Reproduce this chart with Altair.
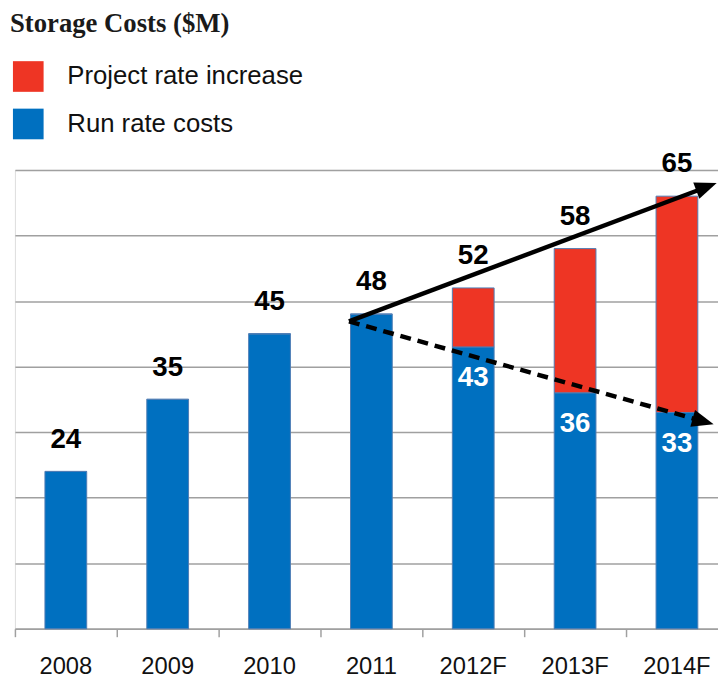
import math
import altair as alt
import pandas as pd

# ---- data ----
years = ["2008", "2009", "2010", "2011", "2012F", "2013F", "2014F"]
run_rate = [24, 35, 45, 48, 43, 36, 33]
project_increase = [0, 0, 0, 0, 9, 22, 33]
total_labels = [24, 35, 45, 48, 52, 58, 65]
run_labels = [None, None, None, None, 43, 36, 33]
boundary_ticks = [0, 1, 2, 3, 4, 5, 6, 7]

# trend arrows (x in category units, y in $M)
solid_x = [3.28, 6.74]
solid_y = [46.9, 67.1]
solid_tip_x = [6.89]
solid_tip_y = [68.0]
dashed_x = [3.28, 6.70]
dashed_y = [46.9, 31.9]
dashed_tip_x = [6.86]
dashed_tip_y = [31.2]
tip_angles = [69.4, 105.7]

series_names = ["Project rate increase", "Run rate costs"]
BLUE = "#0070C0"
RED = "#EE3524"

rows = []
for y, r, p in zip(years, run_rate, project_increase):
    rows.append({"year": y, "series": "Run rate costs", "value": r, "ord": 0})
    rows.append({"year": y, "series": "Project rate increase", "value": p, "ord": 1})
bars_df = pd.DataFrame(rows)

tot_df = pd.DataFrame({
    "year": years,
    "top": [r + p for r, p in zip(run_rate, project_increase)],
    "label": [str(v) for v in total_labels],
})
inner_df = pd.DataFrame({
    "year": [y for y, l in zip(years, run_labels) if l is not None],
    "run": [r for r, l in zip(run_rate, run_labels) if l is not None],
    "label": [str(l) for l in run_labels if l is not None],
})
solid_df = pd.DataFrame({"x": solid_x, "y": solid_y})
dashed_df = pd.DataFrame({"x": dashed_x, "y": dashed_y})
tips_df = pd.DataFrame({
    "x": solid_tip_x + dashed_tip_x,
    "y": solid_tip_y + dashed_tip_y,
    "angle": tip_angles,
})

# plot area: the last category runs past the right edge of the picture, as in the reference
W, H = 711, 464
STEP = 103.0
VISIBLE_CATS = W / STEP  # ~6.9 categories visible
GRID = "#A0A0A0"

y_axis = alt.Axis(values=[0, 10, 20, 30, 40, 50, 60, 70], grid=True, gridColor=GRID,
                  gridWidth=1.5, domain=False, ticks=False, labels=False, title=None)
y_scale = alt.Scale(domain=[0, 70], nice=False, zero=True)

x_band = alt.Scale(domain=years, paddingInner=0.59, paddingOuter=0.2465, align=0.598)
x_axis = alt.Axis(title=None, labelAngle=0, labelFont="Liberation Sans",
                  labelFontSize=24, labelColor="#111111", labelPadding=26,
                  ticks=False, domainColor=GRID, domainWidth=1.5, grid=False)

bars = alt.Chart(bars_df).mark_bar(stroke="#4F7DB5", strokeWidth=1).encode(
    x=alt.X("year:N", sort=years, scale=x_band, axis=x_axis),
    y=alt.Y("value:Q", stack="zero", scale=y_scale, axis=y_axis),
    color=alt.Color("series:N", scale=alt.Scale(domain=series_names, range=[RED, BLUE]),
                    legend=alt.Legend(orient="none", legendX=-2, legendY=-110, title=None,
                                      symbolType="square", symbolSize=961,
                                      symbolStrokeWidth=0, labelFont="Liberation Sans",
                                      labelFontSize=26, labelColor="#111111",
                                      labelOffset=24, rowPadding=17, labelLimit=500,
                                      padding=0)),
    order=alt.Order("ord:Q"),
)

totals = alt.Chart(tot_df).mark_text(dy=-24, baseline="alphabetic", font="Liberation Sans",
                                     fontSize=28, fontWeight="bold", color="#000000").encode(
    x=alt.X("year:N", sort=years, scale=x_band, axis=x_axis),
    y=alt.Y("top:Q", scale=y_scale, axis=y_axis),
    text="label:N",
)

inner = alt.Chart(inner_df).mark_text(dy=40, baseline="alphabetic", font="Liberation Sans",
                                      fontSize=28, fontWeight="bold", color="#FFFFFF").encode(
    x=alt.X("year:N", sort=years, scale=x_band, axis=x_axis),
    y=alt.Y("run:Q", scale=y_scale, axis=y_axis),
    text="label:N",
)

x_q = alt.Scale(domain=[0, VISIBLE_CATS], nice=False, zero=False)
x_q_axis = alt.Axis(orient="bottom", values=boundary_ticks, labels=False, domain=False,
                    grid=False, ticks=True, tickSize=8, tickColor=GRID, tickWidth=1.5,
                    title=None)

solid = alt.Chart(solid_df).mark_line(color="black", strokeWidth=4.5).encode(
    x=alt.X("x:Q", scale=x_q, axis=x_q_axis),
    y=alt.Y("y:Q", scale=y_scale, axis=y_axis),
)
dashed = alt.Chart(dashed_df).mark_line(color="black", strokeWidth=4.5, strokeDash=[11, 7]).encode(
    x=alt.X("x:Q", scale=x_q, axis=x_q_axis),
    y=alt.Y("y:Q", scale=y_scale, axis=y_axis),
)
heads = alt.Chart(tips_df).mark_point(shape="M0,0L-0.8,2L0.8,2Z", filled=True, size=484,
                                      color="black", opacity=1, strokeWidth=0).encode(
    x=alt.X("x:Q", scale=x_q, axis=x_q_axis),
    y=alt.Y("y:Q", scale=y_scale, axis=y_axis),
    angle=alt.Angle("angle:Q", scale=None),
)

chart = alt.layer(
    alt.layer(bars, totals, inner),
    alt.layer(solid, dashed, heads),
).resolve_scale(x="independent").properties(
    width=W, height=H,
    padding={"left": 7, "top": 160, "right": 0, "bottom": 46},
    autosize=alt.AutoSizeParams(type="none"),
    title=alt.TitleParams("Storage Costs ($M)", anchor="start", font="Liberation Serif",
                          fontSize=27, fontWeight="bold", color="#1a1a1a", dx=-3,
                          offset=2, baseline="alphabetic"),
).configure_view(stroke=None).configure(background="white")

chart.save("out.html", embed_options={"renderer": "svg", "actions": False})
